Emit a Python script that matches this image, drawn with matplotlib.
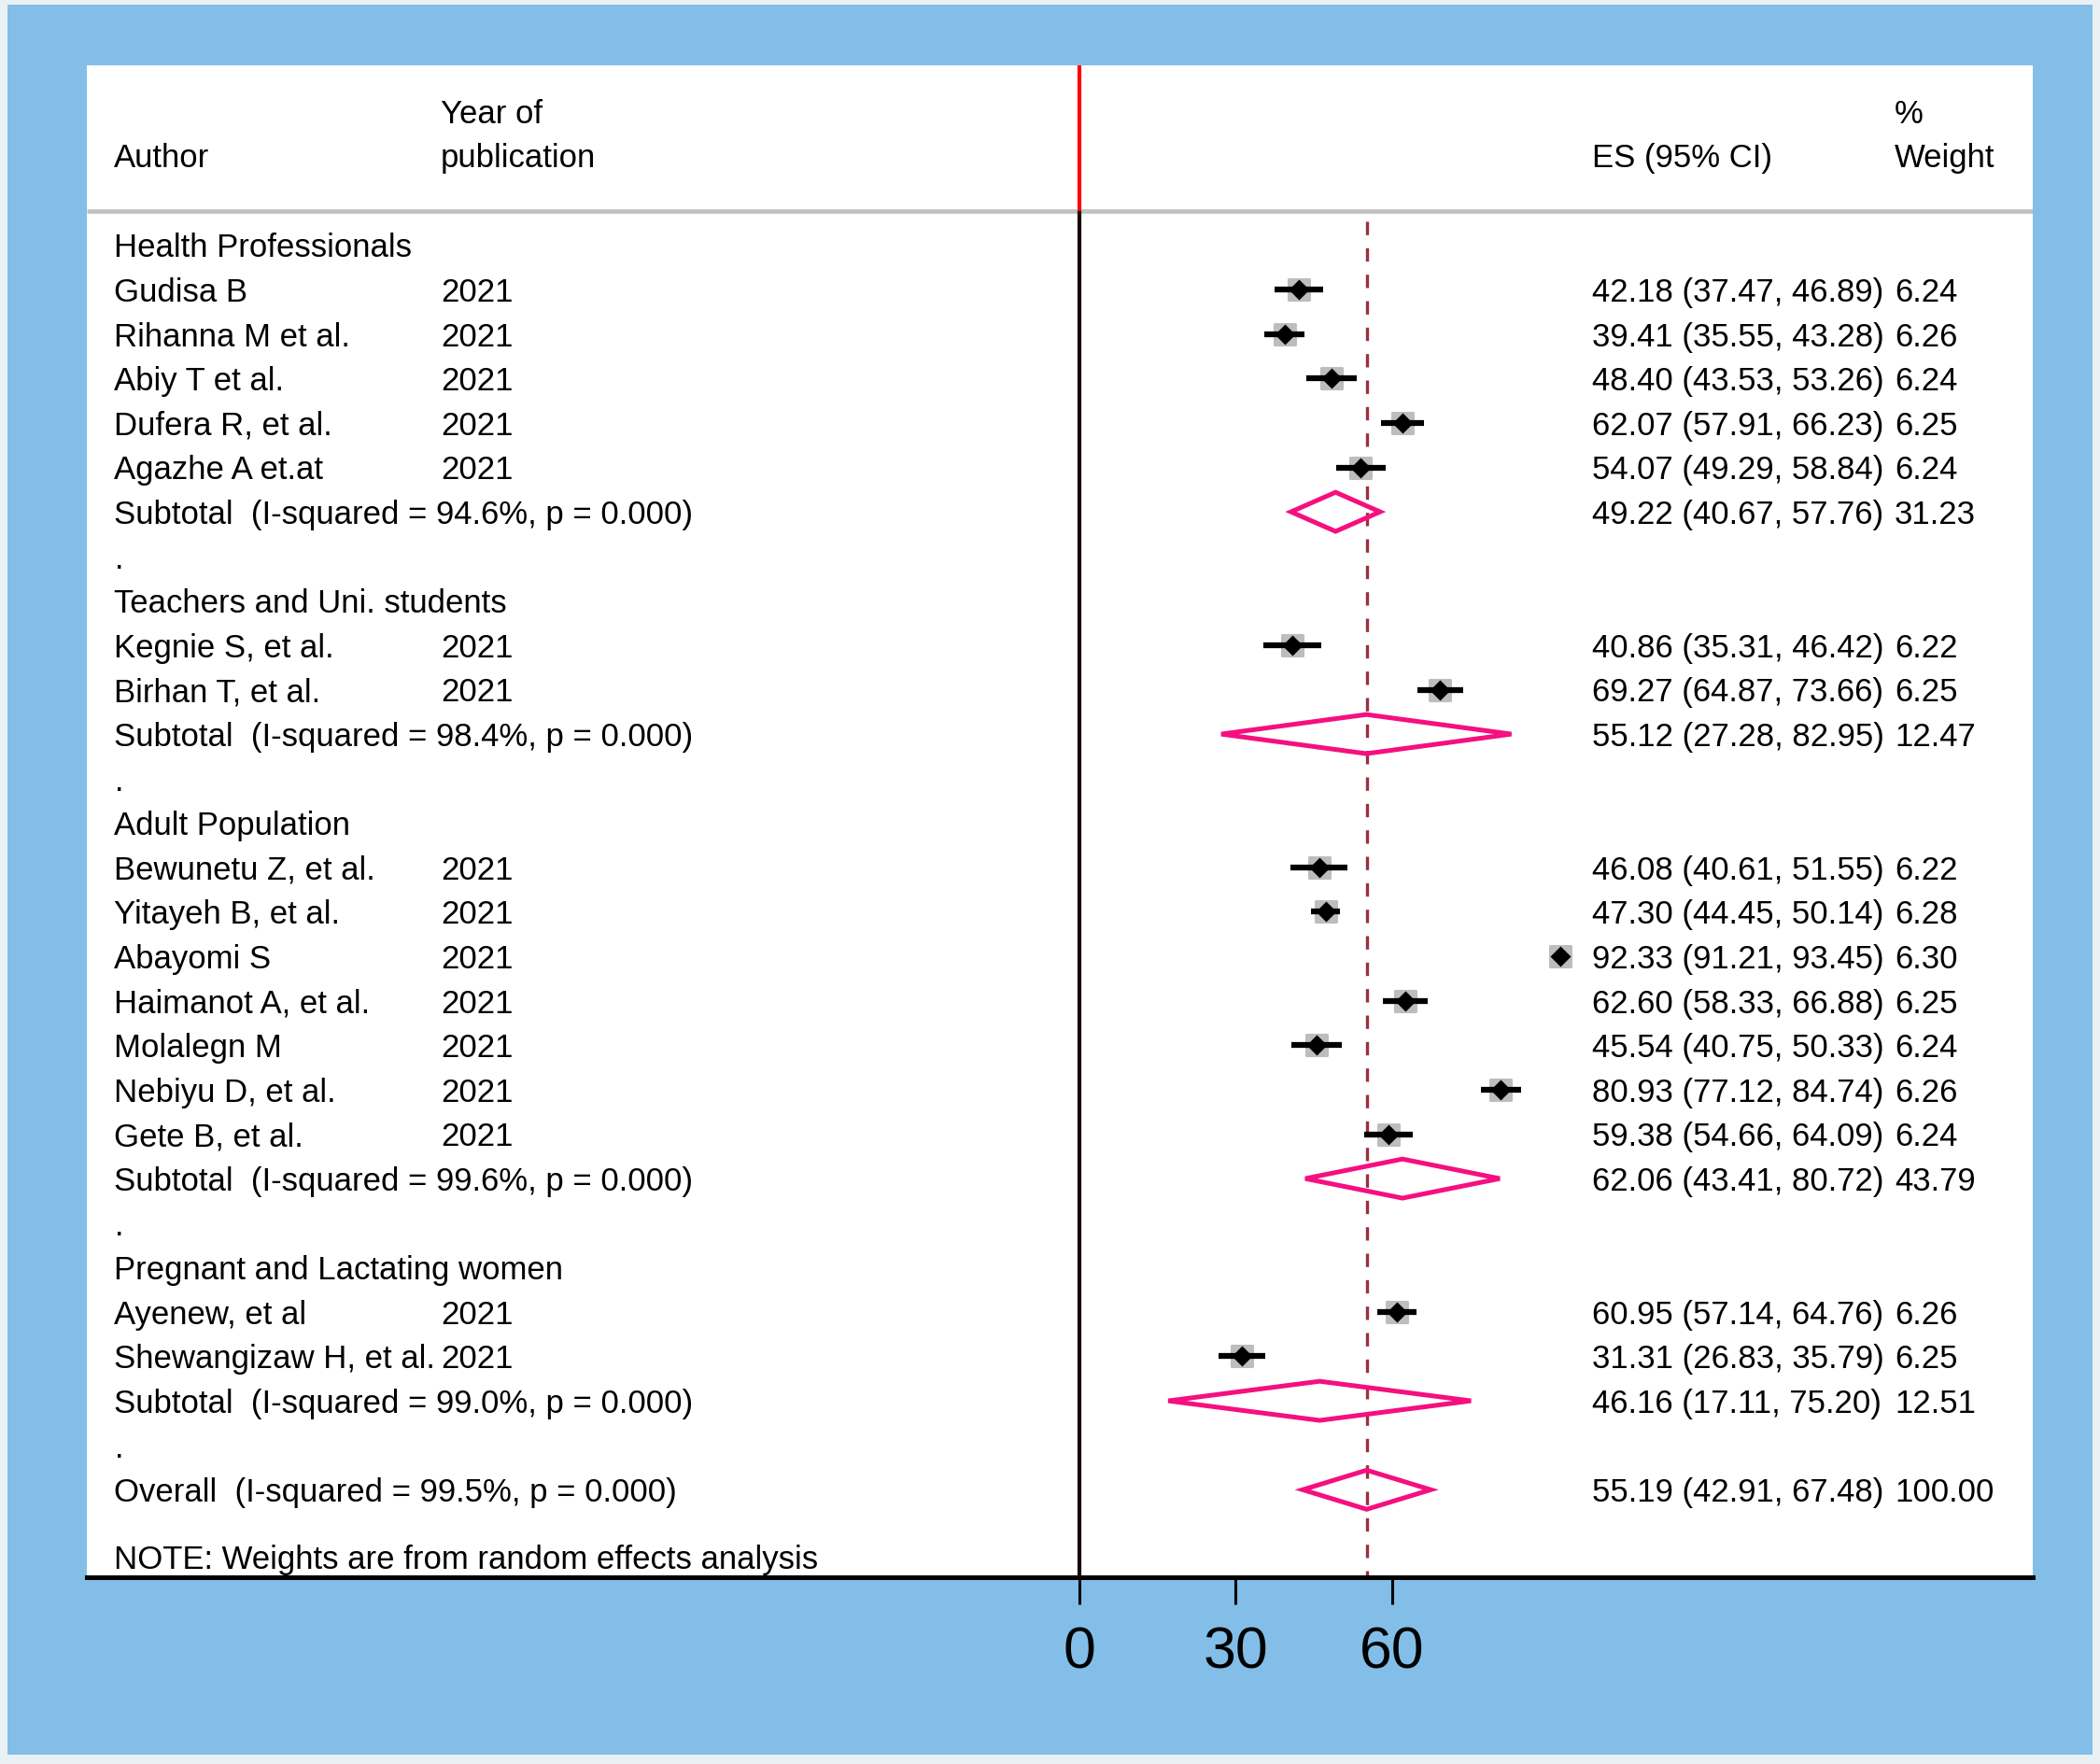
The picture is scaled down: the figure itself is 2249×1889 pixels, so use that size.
import numpy as np
import matplotlib
matplotlib.use("Agg")
import matplotlib.pyplot as plt
from matplotlib.patches import Rectangle, Polygon
from matplotlib.markers import MarkerStyle
import matplotlib.transforms as mtransforms

plt.rcParams['font.family'] = ['Liberation Sans', 'DejaVu Sans']

# ---------------- data ----------------
group_names = ["Health Professionals", "Teachers and Uni. students",
               "Adult Population", "Pregnant and Lactating women"]

hp_authors = ["Gudisa B", "Rihanna M et al.", "Abiy T et al.", "Dufera R, et al.", "Agazhe A et.at"]
hp_es = [42.18, 39.41, 48.40, 62.07, 54.07]
hp_lo = [37.47, 35.55, 43.53, 57.91, 49.29]
hp_hi = [46.89, 43.28, 53.26, 66.23, 58.84]
hp_w = [6.24, 6.26, 6.24, 6.25, 6.24]

tu_authors = ["Kegnie S, et al.", "Birhan T, et al."]
tu_es = [40.86, 69.27]
tu_lo = [35.31, 64.87]
tu_hi = [46.42, 73.66]
tu_w = [6.22, 6.25]

ad_authors = ["Bewunetu Z, et al.", "Yitayeh B, et al.", "Abayomi S", "Haimanot A, et al.",
              "Molalegn M", "Nebiyu D, et al.", "Gete B, et al."]
ad_es = [46.08, 47.30, 92.33, 62.60, 45.54, 80.93, 59.38]
ad_lo = [40.61, 44.45, 91.21, 58.33, 40.75, 77.12, 54.66]
ad_hi = [51.55, 50.14, 93.45, 66.88, 50.33, 84.74, 64.09]
ad_w = [6.22, 6.28, 6.30, 6.25, 6.24, 6.26, 6.24]

pl_authors = ["Ayenew, et al", "Shewangizaw H, et al."]
pl_es = [60.95, 31.31]
pl_lo = [57.14, 26.83]
pl_hi = [64.76, 35.79]
pl_w = [6.26, 6.25]

pub_year = "2021"

sub_i2 = ["94.6%", "98.4%", "99.6%", "99.0%"]
sub_es = [49.22, 55.12, 62.06, 46.16]
sub_lo = [40.67, 27.28, 43.41, 17.11]
sub_hi = [57.76, 82.95, 80.72, 75.20]
sub_w = [31.23, 12.47, 43.79, 12.51]

overall_i2 = "99.5%"
overall_es, overall_lo, overall_hi, overall_w = 55.19, 42.91, 67.48, 100.00

x_ticks = [0, 30, 60]

groups = [
    (hp_authors, hp_es, hp_lo, hp_hi, hp_w),
    (tu_authors, tu_es, tu_lo, tu_hi, tu_w),
    (ad_authors, ad_es, ad_lo, ad_hi, ad_w),
    (pl_authors, pl_es, pl_lo, pl_hi, pl_w),
]

# ---------------- styling ----------------
W, H = 2249, 1889
fig = plt.figure(figsize=(W / 100, H / 100), dpi=100)
fig.patch.set_facecolor('#EAF1F4')
bg = Rectangle((7.7 / W, 1 - 1879 / H), (2241 - 7.7) / W, (1879 - 4.7) / H,
               transform=fig.transFigure, facecolor='#83BEE8', edgecolor='none', zorder=-5)
fig.patches.append(bg)

left, right, top, bottom = 93 / W, 2177 / W, 1 - 70 / H, 1 - 1689 / H
ax = fig.add_axes([left, bottom, right - left, top - bottom])
ax.set_zorder(5)
ax.set_facecolor('white')

px_per_unit = 5.58
x0_px = 1155.7
ax.set_xlim((93 - x0_px) / px_per_unit, (2177 - x0_px) / px_per_unit)
row0_px, row_h = 262.5, 47.6
ax.set_ylim((1689 - row0_px) / row_h, (70 - row0_px) / row_h)

for s in ['top', 'left', 'right']:
    ax.spines[s].set_visible(False)
ax.spines['bottom'].set_linewidth(3.6)
ax.spines['bottom'].set_color('black')
ax.set_yticks([])
ax.set_xticks(x_ticks)
ax.set_xticklabels([str(t) for t in x_ticks])
ax.tick_params(axis='x', direction='out', length=21, width=2.2, labelsize=45, pad=16,
               colors='black')

FS = 25
PINK = '#F50F80'
DASH = '#9B3040'
GRAY = '#BDBDBD'
trans = mtransforms.blended_transform_factory(ax.transAxes, ax.transData)
x_author, x_year, x_es, x_w = 0.0141, 0.1819, 0.7733, 0.929
tdy = 0.27

def txt(xf, y, s):
    ax.text(xf, y + tdy, s, transform=trans, fontsize=FS, va='baseline', ha='left',
            color='black')

# header
ax.text(x_author, -1.75, "Author", transform=trans, fontsize=FS, va='baseline')
ax.text(x_year, -2.75, "Year of", transform=trans, fontsize=FS, va='baseline')
ax.text(x_year, -1.75, "publication", transform=trans, fontsize=FS, va='baseline')
ax.text(x_es, -1.75, "ES (95% CI)", transform=trans, fontsize=FS, va='baseline')
ax.text(x_w, -2.75, "%", transform=trans, fontsize=FS, va='baseline')
ax.text(x_w, -1.75, "Weight", transform=trans, fontsize=FS, va='baseline')

sep_y = -0.76
ax.plot([0, 1], [sep_y, sep_y], transform=trans, color='#C0C0C0', lw=3.4,
        solid_capstyle='butt', zorder=2)

# null line: red in header, black in plot region
ymin, ymax = ax.get_ylim()
ax.plot([0, 0], [ymax, sep_y], color='#FF0000', lw=3.0, solid_capstyle='butt', zorder=3)
ax.plot([0, 0], [sep_y, ymin], color='#1A0505', lw=3.0, solid_capstyle='butt', zorder=3)

# overall dashed line
ln, = ax.plot([overall_es, overall_es], [-0.53, ymin], color=DASH, lw=2.4, zorder=2,
              solid_capstyle='butt')
ln.set_dashes((4.3, 4.2))

def diamond(es, lo, hi, y, h=0.44):
    ax.add_patch(Polygon([(lo, y), (es, y - h), (hi, y), (es, y + h)], closed=True,
                         fill=False, edgecolor=PINK, lw=3.6, joinstyle='miter', zorder=5))

box_marker = MarkerStyle('s', joinstyle='round')

row = 0
for gi, (auth, es, lo, hi, w) in enumerate(groups):
    txt(x_author, row, group_names[gi])
    row += 1
    for a, e, l, h, ww in zip(auth, es, lo, hi, w):
        ax.plot(e, row, marker=box_marker, ms=15.3 * np.sqrt(ww / 6.25), color=GRAY,
                mec=GRAY, mew=2.2, zorder=4)
        ax.plot([l, h], [row, row], color='black', lw=4.5, solid_capstyle='butt', zorder=5)
        ax.plot(e, row, marker='D', ms=10.8, color='black', mec='none', zorder=6)
        txt(x_author, row, a)
        txt(x_year, row, pub_year)
        txt(x_es, row, f"{e:.2f} ({l:.2f}, {h:.2f})")
        txt(x_w, row, f"{ww:.2f}")
        row += 1
    diamond(sub_es[gi], sub_lo[gi], sub_hi[gi], row)
    txt(x_author, row, f"Subtotal  (I-squared = {sub_i2[gi]}, p = 0.000)")
    txt(x_es, row, f"{sub_es[gi]:.2f} ({sub_lo[gi]:.2f}, {sub_hi[gi]:.2f})")
    txt(x_w, row, f"{sub_w[gi]:.2f}")
    row += 1
    txt(x_author, row, ".")
    row += 1

diamond(overall_es, overall_lo, overall_hi, row)
txt(x_author, row, f"Overall  (I-squared = {overall_i2}, p = 0.000)")
txt(x_es, row, f"{overall_es:.2f} ({overall_lo:.2f}, {overall_hi:.2f})")
txt(x_w, row, f"{overall_w:.2f}")
txt(x_author, row + 1.5, "NOTE: Weights are from random effects analysis")

fig.savefig("out.png", dpi=100, facecolor=fig.get_facecolor())
